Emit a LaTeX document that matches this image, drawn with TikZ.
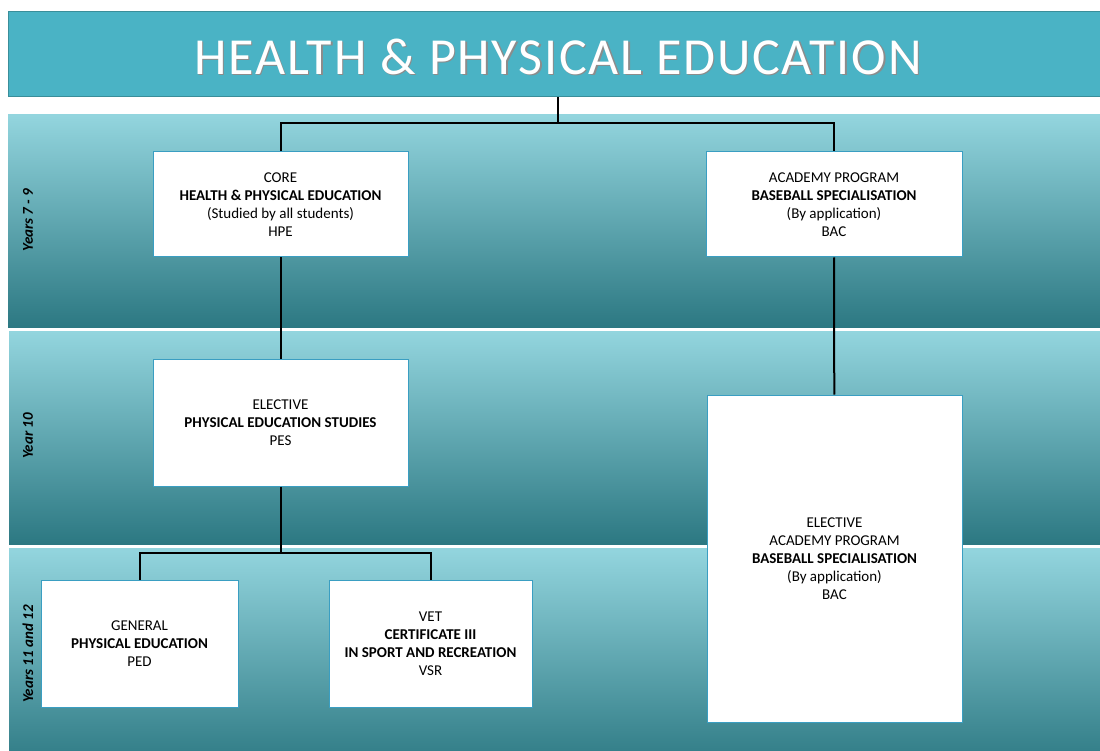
\documentclass[tikz,border=0pt]{standalone}
\usepackage{fontspec}
\setmainfont{Carlito}
\newfontfamily\titlefont[LetterSpace=3.5]{Carlito}
\usepackage{tikz}
\usetikzlibrary{positioning}
\definecolor{bandtop}{HTML}{93D5DE}
\definecolor{bandmid}{HTML}{4DB6C6}
\definecolor{bandbot}{HTML}{2C7882}
\definecolor{titlefill}{HTML}{4AB3C5}
\definecolor{titleline}{HTML}{3A8E9A}
\definecolor{boxline}{HTML}{3A9EC2}
\tikzstyle{titlebar} = [rectangle, minimum width=1092pt, minimum height=85pt, draw=titleline, line width=1pt, fill=titlefill]
\tikzstyle{titletext} = [text=white, font=\titlefont\fontsize{52}{60}\selectfont]
\tikzstyle{band} = [top color=bandtop, middle color=bandmid, bottom color=bandbot]
\tikzstyle{course} = [rectangle, draw=boxline, line width=1pt, fill=white, text centered, align=center, inner sep=0pt, font=\fontsize{15}{18}\selectfont]
\tikzstyle{yearlabel} = [rotate=90, font=\fontsize{15}{18}\selectfont\bfseries\itshape]
\tikzstyle{link} = [line width=2pt, black]

\begin{document}
\begin{tikzpicture}[x=1pt, y=-1pt]

\clip (0,0) rectangle (1100,751);
\fill [white] (0,0) rectangle (1100,751);

% year bands
\shade [band] (8,115) rectangle (1100,327.5);
\shade [band] (9,331.5) rectangle (1100,544);
\shade [band] (9,548.5) rectangle (1100,770);

\node (title) [titlebar] at (554,54.5) {};
\node (titleshadow) [titletext, text=black!45] at (559.5,58) {HEALTH \& PHYSICAL EDUCATION};
\node (titletext) [titletext] at (558,56.5) {HEALTH \& PHYSICAL EDUCATION};

\node (y79) [yearlabel] at (28,220) {Years 7 - 9};
\node (y10) [yearlabel] at (28,436) {Year 10};
\node (y1112) [yearlabel] at (28,654) {Years 11 and 12};

\node (hpe) [course, minimum width=255pt, minimum height=105pt] at (280.5,204.5) {CORE\\\textbf{HEALTH \& PHYSICAL EDUCATION}\\(Studied by all students)\\HPE};
\node (bac) [course, minimum width=256pt, minimum height=105pt] at (834,204.5) {ACADEMY PROGRAM\\\textbf{BASEBALL SPECIALISATION}\\(By application)\\BAC};
\node (pes) [course, minimum width=255pt, minimum height=127pt] at (280.5,422.5) {ELECTIVE\\\textbf{PHYSICAL EDUCATION STUDIES}\\PES};
\node (bacel) [course, minimum width=255pt, minimum height=327pt] at (834.5,558.5) {ELECTIVE\\ACADEMY PROGRAM\\\textbf{BASEBALL SPECIALISATION}\\(By application)\\BAC};
\node (ped) [course, minimum width=197pt, minimum height=127pt] at (139.5,643.5) {GENERAL\\\textbf{PHYSICAL EDUCATION}\\PED};
\node (vsr) [course, minimum width=203pt, minimum height=127pt] at (430.5,643.5) {VET\\\textbf{CERTIFICATE III}\\\textbf{IN SPORT AND RECREATION}\\VSR};

\coordinate (top) at (558,123);
\coordinate (split) at (280.5,553);

\draw [link] (title.south -| top) -- (top);
\draw [link] (top) -| (hpe.north);
\draw [link] (top) -| (bac.north);
\draw [link] (hpe) -- (pes);
\draw [link] (bac) -- (bacel);
\draw [link] (pes.south) -- (split);
\draw [link] (split) -| (ped.north);
\draw [link] (split) -| (vsr.north);

\end{tikzpicture}
\end{document}
